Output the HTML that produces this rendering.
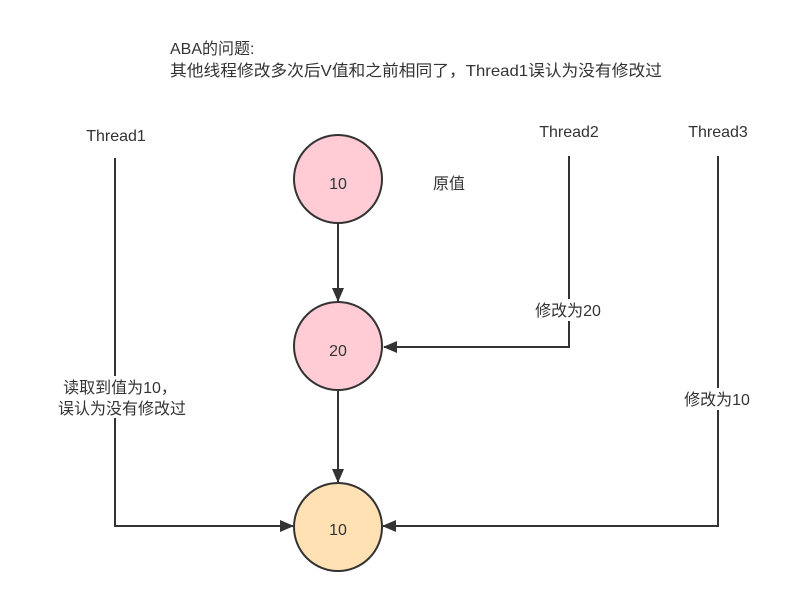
<!DOCTYPE html>
<html><head><meta charset="utf-8"><style>
html,body{margin:0;padding:0;background:#fff;}
svg text{font-family:"Liberation Sans","Noto Sans CJK SC",sans-serif;fill:#333;}
</style></head><body>
<svg width="794" height="602" viewBox="0 0 794 602" xmlns="http://www.w3.org/2000/svg">
<defs><marker id="a" markerWidth="14" markerHeight="12" refX="13" refY="6" orient="auto" markerUnits="userSpaceOnUse"><path d="M0,0 L14,6 L0,12 Z" fill="#333"/></marker></defs>
<text x="170" y="54" font-size="16">ABA的问题:</text>
<text x="170" y="76" font-size="16" textLength="492" lengthAdjust="spacingAndGlyphs">其他线程修改多次后V值和之前相同了，Thread1误认为没有修改过</text>
<text x="116" y="141" font-size="16" text-anchor="middle">Thread1</text>
<text x="569" y="137" font-size="16" text-anchor="middle">Thread2</text>
<text x="718" y="137" font-size="16" text-anchor="middle">Thread3</text>
<g stroke="#333" stroke-width="2" fill="none">
<line x1="338" y1="223" x2="338" y2="301" marker-end="url(#a)"/>
<line x1="338" y1="391" x2="338" y2="482" marker-end="url(#a)"/>
<polyline points="115,158 115,526 293,526" marker-end="url(#a)"/>
<polyline points="569,156 569,347 384,347" marker-end="url(#a)"/>
<polyline points="718,156 718,526 383,526" marker-end="url(#a)"/>
</g>
<rect x="528" y="299" width="80" height="22" fill="#fff"/>
<text x="568" y="316" font-size="16" text-anchor="middle">修改为20</text>
<rect x="674" y="388" width="86" height="22" fill="#fff"/>
<text x="717" y="405" font-size="16" text-anchor="middle">修改为10</text>
<rect x="54" y="376" width="136" height="42" fill="#fff"/>
<text x="120" y="393" font-size="16" text-anchor="middle">读取到值为10，</text>
<text x="122" y="414" font-size="16" text-anchor="middle">误认为没有修改过</text>
<g stroke="#333" stroke-width="2">
<circle cx="338" cy="179" r="44" fill="#FFCCD5"/>
<circle cx="338" cy="346" r="44" fill="#FFCCD5"/>
<circle cx="338" cy="527" r="44" fill="#FFE1B3"/>
</g>
<text x="338" y="189" font-size="16" text-anchor="middle">10</text>
<text x="338" y="356" font-size="16" text-anchor="middle">20</text>
<text x="338" y="535" font-size="16" text-anchor="middle">10</text>
<text x="449" y="189" font-size="16" text-anchor="middle">原值</text>
</svg>
</body></html>
